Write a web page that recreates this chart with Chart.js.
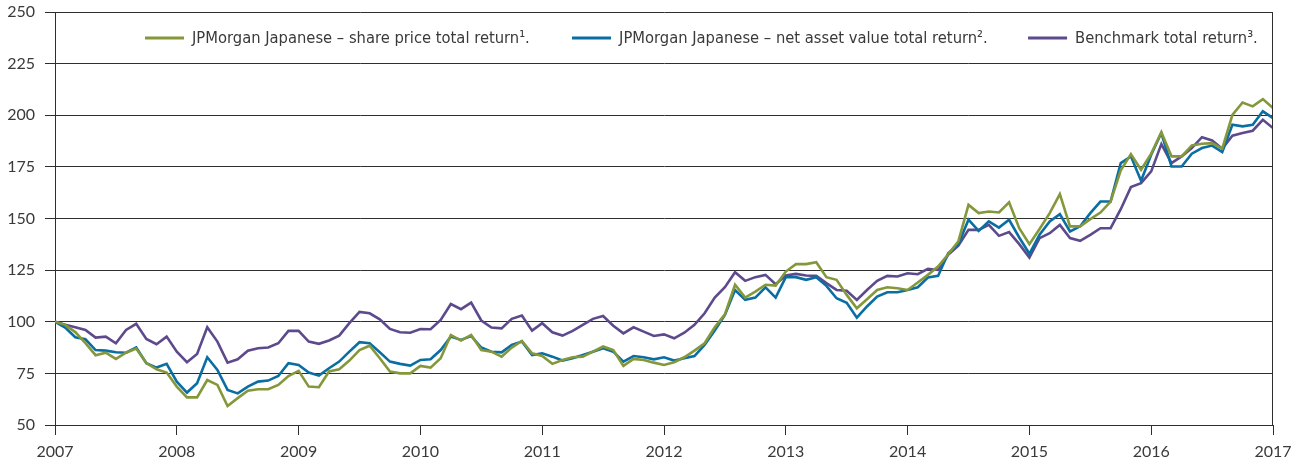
<!DOCTYPE html>
<html>
<head>
<meta charset="utf-8">
<script src="https://cdn.jsdelivr.net/npm/chart.js@4.4.1/dist/chart.umd.min.js"></script>
<style>
  html, body { margin: 0; padding: 0; background: #ffffff; }
  #wrap { width: 1306px; height: 463px; position: relative; }
</style>
</head>
<body>
<div id="wrap"><canvas id="c" width="1306" height="463"></canvas></div>
<script>
// ---- Data (monthly, Jan 2007 = 100 ... Jan 2017) ----
const yearLabels = ['2007','2008','2009','2010','2011','2012','2013','2014','2015','2016','2017'];
const yTicks = [50, 75, 100, 125, 150, 175, 200, 225, 250];
const seriesNames = [
  'JPMorgan Japanese \u2013 share price total return\u00B9.',
  'JPMorgan Japanese \u2013 net asset value total return\u00B2.',
  'Benchmark total return\u00B3.'
];
const sharePrice = [
  100, 98.5, 95, 89.6, 83.8, 85, 82, 85, 87, 80, 77, 75.4,
  68.6, 63.4, 63.4, 71.8, 69.4, 59.2, 63, 66.6, 67.3, 67.3, 69.4, 73.7,
  76.2, 68.6, 68.3, 75.9, 77, 81.2, 86.3, 88.4, 82.3, 75.9, 75, 75,
  78.6, 77.8, 82.3, 93.6, 90.9, 93.6, 86.3, 85.5, 83.1, 87.5, 90.7, 84.7,
  83.4, 79.6, 81.5, 82.8, 83.1, 85.5, 88, 86.3, 78.6, 82, 81.5, 80.2,
  79.1, 80.4, 82.8, 86, 89.6, 97.3, 103.6, 117.9, 111.7, 114.6, 117.9, 117.5,
  124.3, 127.9, 127.9, 128.8, 121.6, 120.3, 113, 106.5, 110.9, 115.4, 116.7, 116.2,
  115.4, 119, 122.7, 126.7, 132.7, 138.9, 156.6, 152.6, 153.4, 152.9, 157.8, 145.3,
  137.6, 144.9, 152.6, 161.8, 146.2, 146.2, 149.7, 152.9, 158.2, 173.3, 181.2, 173.6,
  181.4, 191.8, 180.1, 180.1, 185.4, 186.2, 186.5, 183.8, 200.2, 206.2, 204.3, 207.8,
  203.5
];
const navReturn = [
  100, 97.2, 92.5, 91.5, 86.3, 86, 85.2, 85, 87.5, 79.9, 77.8, 79.6,
  71, 65.7, 70.2, 82.8, 76.7, 67, 65.3, 68.6, 71, 71.5, 73.7, 79.9,
  79.1, 75.4, 73.9, 77.5, 80.7, 85.5, 90.1, 89.6, 85.2, 80.7, 79.6, 78.8,
  81.5, 81.8, 86.3, 92.8, 91.2, 93.1, 87.5, 85.5, 85.2, 88.8, 90.4, 83.9,
  84.7, 83.1, 81.2, 82.3, 83.9, 85.5, 87.2, 85.5, 80.7, 83.4, 82.8, 81.8,
  82.8, 81.2, 82.3, 83.4, 88.8, 95.7, 103.3, 115.4, 110.6, 111.7, 116.7, 111.7,
  121.6, 121.6, 120.3, 121.6, 117.4, 111.4, 109.2, 102, 107.4, 112.2, 114.3, 114.3,
  115.4, 116.7, 121.4, 122.2, 133.2, 137.6, 149.4, 144, 148.6, 145.6, 149.4, 140.8,
  132.9, 142.1, 148.6, 152.1, 143.7, 146.2, 152.6, 158.2, 158.2, 176.8, 180.1, 168.3,
  180.9, 191.4, 175.2, 175.2, 181.4, 184.1, 185.3, 182.2, 195.4, 194.6, 195.4, 201.9,
  198.6
];
const benchmark = [
  100, 98.5, 97.3, 96, 92.3, 92.8, 89.6, 96, 99, 91.7, 89.1, 92.8,
  85.5, 80.4, 84.4, 97.3, 90.4, 80.2, 81.8, 86, 87.2, 87.5, 89.6, 95.6,
  95.6, 90.4, 89.3, 90.9, 93.3, 99.3, 104.8, 104.1, 101.2, 96.5, 94.9, 94.7,
  96.5, 96.4, 100.9, 108.6, 106.1, 109.3, 100.6, 97.2, 96.8, 101.4, 103, 95.7,
  99.3, 94.9, 93.3, 95.6, 98.5, 101.4, 102.8, 98.1, 94.4, 97.3, 95.2, 93.1,
  93.9, 92, 94.7, 98.5, 104.1, 111.7, 116.7, 124, 119.8, 121.6, 122.7, 118.2,
  122.4, 123.2, 122.4, 122.2, 118.7, 115.4, 115, 110.6, 115.4, 119.8, 122.2, 121.9,
  123.5, 123, 125.6, 125.1, 132.4, 136.9, 144.5, 144.5, 146.9, 141.6, 143.4, 137.6,
  131.1, 140.5, 142.9, 146.9, 140.5, 139.2, 142.1, 145.3, 145.3, 154.5, 165.2, 167.1,
  172.8, 186, 176.8, 180.1, 184.1, 189.4, 187.8, 183.8, 190.1, 191.4, 192.5, 197.8,
  193.8
];

// ---- Styling ----
const COLORS = ['#84983b', '#0a6ea3', '#5d4a8c'];
const TEXT = '#3a3a3a';
const GRID = '#2e2e2e';
const TICK_FONT = { family: 'Lato, "Open Sans", sans-serif', size: 16 };
const LEGEND_FONT = '16.4px "Liberation Sans Narrow", "DejaVu Sans Condensed", sans-serif';

const toPoints = arr => arr.map((v, i) => ({ x: i, y: v }));

const inlineLegend = {
  id: 'inlineLegend',
  afterDraw(chart) {
    const ctx = chart.ctx;
    const a = chart.chartArea;
    const w = a.right - a.left;
    const starts = [0.0739, 0.4245, 0.7989];
    const y = a.top + 26;
    ctx.save();
    ctx.font = LEGEND_FONT;
    ctx.textBaseline = 'middle';
    ctx.fillStyle = TEXT;
    chart.data.datasets.forEach((ds, i) => {
      const x0 = a.left + starts[i] * w;
      ctx.strokeStyle = ds.borderColor;
      ctx.lineWidth = 3;
      ctx.beginPath();
      ctx.moveTo(x0, y);
      ctx.lineTo(x0 + 39, y);
      ctx.stroke();
      ctx.fillText(ds.label, x0 + 47, y + 1);
    });
    ctx.restore();
  }
};

const rightBorder = {
  id: 'rightBorder',
  afterDraw(chart) {
    const ctx = chart.ctx;
    const a = chart.chartArea;
    ctx.save();
    ctx.strokeStyle = GRID;
    ctx.lineWidth = 1;
    ctx.beginPath();
    ctx.moveTo(Math.round(a.right) - 0.5, a.top);
    ctx.lineTo(Math.round(a.right) - 0.5, a.bottom);
    ctx.stroke();
    ctx.restore();
  }
};

new Chart(document.getElementById('c'), {
  type: 'line',
  data: {
    datasets: [sharePrice, navReturn, benchmark].map((arr, i) => ({
      label: seriesNames[i],
      data: toPoints(arr),
      borderColor: COLORS[i],
      backgroundColor: COLORS[i],
      borderWidth: 2.6,
      pointRadius: 0,
      tension: 0,
      fill: false
    }))
  },
  options: {
    responsive: false,
    animation: false,
    devicePixelRatio: 1,
    layout: { padding: { top: 12, right: 33, left: 0, bottom: 0 } },
    plugins: { legend: { display: false }, tooltip: { enabled: false } },
    scales: {
      x: {
        type: 'linear',
        min: 0, max: (yearLabels.length - 1) * 12,
        afterBuildTicks: s => { s.ticks = yearLabels.map((_, i) => ({ value: i * 12 })); },
        afterFit: s => { s.height = 38; s.paddingLeft = 0; s.paddingRight = 0; },
        ticks: {
          callback: v => yearLabels[v / 12],
          color: TEXT, font: TICK_FONT, padding: 7, maxRotation: 0, autoSkip: false
        },
        grid: { drawOnChartArea: false, drawTicks: true, tickLength: 10, color: GRID },
        border: { display: true, color: GRID, width: 1 }
      },
      y: {
        min: 50, max: 250,
        afterBuildTicks: s => { s.ticks = yTicks.map(v => ({ value: v })); },
        afterFit: s => { s.width = 55; s.paddingTop = 0; s.paddingBottom = 0; },
        ticks: { color: TEXT, font: TICK_FONT, padding: 10 },
        grid: { color: GRID, tickLength: 10, drawTicks: true },
        border: { display: true, color: GRID, width: 1 }
      }
    }
  },
  plugins: [inlineLegend, rightBorder]
});
</script>
</body>
</html>
